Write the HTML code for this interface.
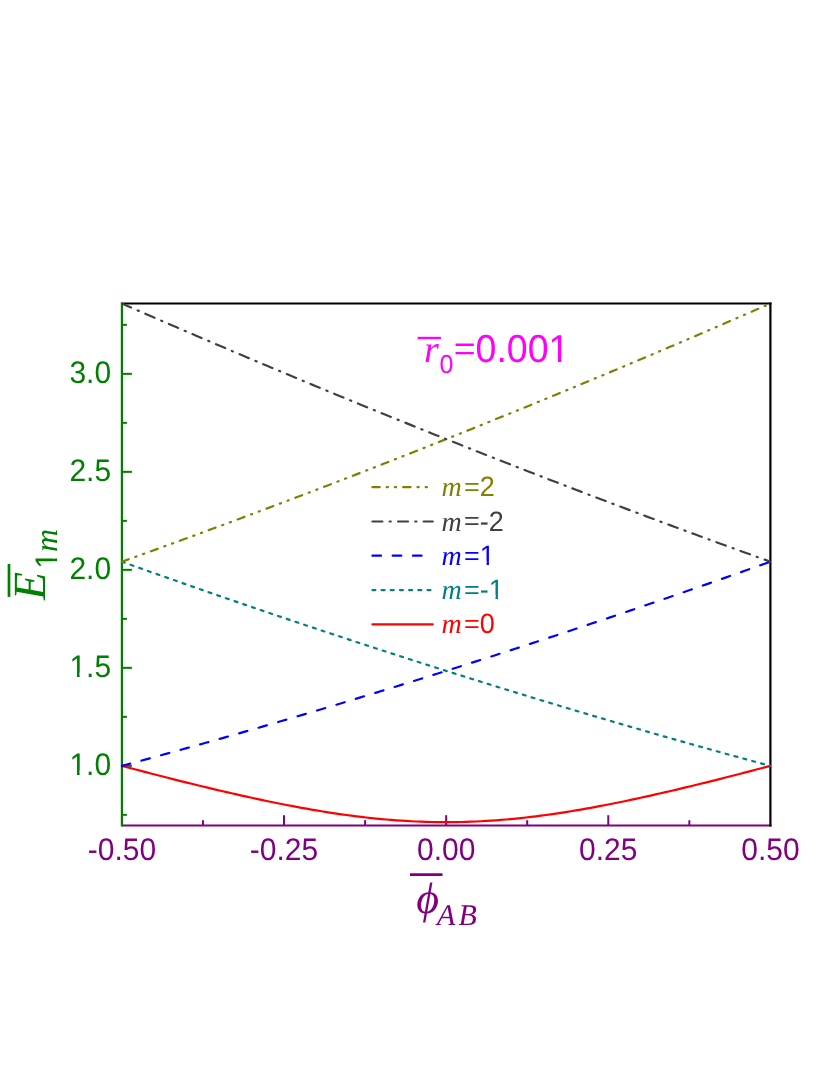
<!DOCTYPE html>
<html lang="en"><head><meta charset="utf-8"><title>chart</title>
<style>html,body{margin:0;padding:0;background:#fff}svg{display:block;will-change:transform}text{text-rendering:geometricPrecision}</style></head>
<body>
<svg width="830" height="1075" viewBox="0 0 830 1075" role="img" aria-label="Energy levels versus Aharonov-Bohm flux">
<rect width="830" height="1075" fill="#fff"/>
<defs><clipPath id="c"><rect x="120.8" y="302.4" width="650.7" height="524.2"/></clipPath></defs>
<line x1="121.9" y1="825.5" x2="771.5" y2="825.5" stroke="#800080" stroke-width="2.2"/>
<line x1="121.9" y1="303.5" x2="771.5" y2="303.5" stroke="#000" stroke-width="2.2"/>
<g stroke="#008000" stroke-width="2.2">
<line x1="121.9" y1="302.4" x2="121.9" y2="826.6"/>
<line x1="121.9" y1="814.85" x2="126.9" y2="814.85" stroke-width="2"/>
<line x1="121.9" y1="765.85" x2="131.9" y2="765.85" stroke-width="2"/>
<line x1="121.9" y1="716.85" x2="126.9" y2="716.85" stroke-width="2"/>
<line x1="121.9" y1="667.85" x2="131.9" y2="667.85" stroke-width="2"/>
<line x1="121.9" y1="618.85" x2="126.9" y2="618.85" stroke-width="2"/>
<line x1="121.9" y1="569.85" x2="131.9" y2="569.85" stroke-width="2"/>
<line x1="121.9" y1="520.85" x2="126.9" y2="520.85" stroke-width="2"/>
<line x1="121.9" y1="471.85" x2="131.9" y2="471.85" stroke-width="2"/>
<line x1="121.9" y1="422.85" x2="126.9" y2="422.85" stroke-width="2"/>
<line x1="121.9" y1="373.85" x2="131.9" y2="373.85" stroke-width="2"/>
<line x1="121.9" y1="324.85" x2="126.9" y2="324.85" stroke-width="2"/>
</g>
<g stroke="#800080" stroke-width="2.2">
<line x1="202.96" y1="825.5" x2="202.96" y2="820.2" stroke-width="2"/>
<line x1="284.02" y1="825.5" x2="284.02" y2="815.2" stroke-width="2"/>
<line x1="365.09" y1="825.5" x2="365.09" y2="820.2" stroke-width="2"/>
<line x1="446.15" y1="825.5" x2="446.15" y2="815.2" stroke-width="2"/>
<line x1="527.21" y1="825.5" x2="527.21" y2="820.2" stroke-width="2"/>
<line x1="608.27" y1="825.5" x2="608.27" y2="815.2" stroke-width="2"/>
<line x1="689.34" y1="825.5" x2="689.34" y2="820.2" stroke-width="2"/>
</g>
<line x1="770.4" y1="302.4" x2="770.4" y2="826.6" stroke="#000" stroke-width="2.2"/>
<g clip-path="url(#c)"><g fill="none" stroke-width="2.2" stroke-linecap="round" stroke-linejoin="round">
<path d="M121.90,765.85 L126.89,767.18 L131.88,768.49 L136.87,769.81 L141.85,771.12 L146.84,772.42 L151.83,773.71 L156.82,775.00 L161.81,776.28 L166.80,777.55 L171.78,778.82 L176.77,780.08 L181.76,781.33 L186.75,782.57 L191.74,783.80 L196.73,785.02 L201.72,786.24 L206.70,787.44 L211.69,788.63 L216.68,789.82 L221.67,790.99 L226.66,792.15 L231.65,793.30 L236.63,794.44 L241.62,795.56 L246.61,796.67 L251.60,797.76 L256.59,798.84 L261.58,799.91 L266.57,800.96 L271.55,801.99 L276.54,803.01 L281.53,804.00 L286.52,804.98 L291.51,805.94 L296.50,806.88 L301.48,807.80 L306.47,808.70 L311.46,809.57 L316.45,810.43 L321.44,811.25 L326.43,812.06 L331.42,812.84 L336.40,813.59 L341.39,814.32 L346.38,815.01 L351.37,815.68 L356.36,816.32 L361.35,816.93 L366.33,817.51 L371.32,818.06 L376.31,818.58 L381.30,819.06 L386.29,819.51 L391.28,819.93 L396.27,820.31 L401.25,820.66 L406.24,820.97 L411.23,821.25 L416.22,821.49 L421.21,821.70 L426.20,821.86 L431.18,821.99 L436.17,822.09 L441.16,822.14 L446.15,822.16 L451.14,822.14 L456.13,822.09 L461.12,821.99 L466.10,821.86 L471.09,821.70 L476.08,821.49 L481.07,821.25 L486.06,820.97 L491.05,820.66 L496.03,820.31 L501.02,819.93 L506.01,819.51 L511.00,819.06 L515.99,818.58 L520.98,818.06 L525.97,817.51 L530.95,816.93 L535.94,816.32 L540.93,815.68 L545.92,815.01 L550.91,814.32 L555.90,813.59 L560.88,812.84 L565.87,812.06 L570.86,811.25 L575.85,810.43 L580.84,809.57 L585.83,808.70 L590.82,807.80 L595.80,806.88 L600.79,805.94 L605.78,804.98 L610.77,804.00 L615.76,803.01 L620.75,801.99 L625.73,800.96 L630.72,799.91 L635.71,798.84 L640.70,797.76 L645.69,796.67 L650.68,795.56 L655.67,794.44 L660.65,793.30 L665.64,792.15 L670.63,790.99 L675.62,789.82 L680.61,788.63 L685.60,787.44 L690.58,786.24 L695.57,785.02 L700.56,783.80 L705.55,782.57 L710.54,781.33 L715.53,780.08 L720.52,778.82 L725.50,777.55 L730.49,776.28 L735.48,775.00 L740.47,773.71 L745.46,772.42 L750.45,771.12 L755.43,769.81 L760.42,768.49 L765.41,767.18 L770.40,765.85" stroke="#ff0000"/>
<path d="M121.90,765.85 L126.89,764.52 L131.88,763.18 L136.87,761.84 L141.85,760.49 L146.84,759.14 L151.83,757.78 L156.82,756.42 L161.81,755.06 L166.80,753.68 L171.78,752.31 L176.77,750.93 L181.76,749.54 L186.75,748.15 L191.74,746.76 L196.73,745.36 L201.72,743.96 L206.70,742.56 L211.69,741.15 L216.68,739.73 L221.67,738.32 L226.66,736.89 L231.65,735.47 L236.63,734.04 L241.62,732.61 L246.61,731.17 L251.60,729.73 L256.59,728.29 L261.58,726.84 L266.57,725.39 L271.55,723.93 L276.54,722.48 L281.53,721.01 L286.52,719.55 L291.51,718.08 L296.50,716.61 L301.48,715.13 L306.47,713.65 L311.46,712.17 L316.45,710.68 L321.44,709.19 L326.43,707.70 L331.42,706.20 L336.40,704.70 L341.39,703.20 L346.38,701.69 L351.37,700.18 L356.36,698.67 L361.35,697.15 L366.33,695.63 L371.32,694.11 L376.31,692.58 L381.30,691.05 L386.29,689.52 L391.28,687.98 L396.27,686.44 L401.25,684.90 L406.24,683.35 L411.23,681.80 L416.22,680.25 L421.21,678.69 L426.20,677.13 L431.18,675.57 L436.17,674.01 L441.16,672.44 L446.15,670.86 L451.14,669.29 L456.13,667.71 L461.12,666.12 L466.10,664.54 L471.09,662.95 L476.08,661.36 L481.07,659.76 L486.06,658.16 L491.05,656.56 L496.03,654.95 L501.02,653.34 L506.01,651.73 L511.00,650.12 L515.99,648.50 L520.98,646.88 L525.97,645.25 L530.95,643.62 L535.94,641.99 L540.93,640.36 L545.92,638.72 L550.91,637.08 L555.90,635.43 L560.88,633.78 L565.87,632.13 L570.86,630.48 L575.85,628.82 L580.84,627.16 L585.83,625.50 L590.82,623.83 L595.80,622.16 L600.79,620.49 L605.78,618.81 L610.77,617.13 L615.76,615.45 L620.75,613.76 L625.73,612.07 L630.72,610.38 L635.71,608.68 L640.70,606.98 L645.69,605.28 L650.68,603.58 L655.67,601.87 L660.65,600.15 L665.64,598.44 L670.63,596.72 L675.62,595.00 L680.61,593.27 L685.60,591.55 L690.58,589.82 L695.57,588.08 L700.56,586.34 L705.55,584.60 L710.54,582.86 L715.53,581.11 L720.52,579.36 L725.50,577.61 L730.49,575.85 L735.48,574.09 L740.47,572.33 L745.46,570.56 L750.45,568.79 L755.43,567.02 L760.42,565.25 L765.41,563.47 L770.40,561.68" stroke="#0000ff" stroke-dasharray="8.6 11.68"/>
<path d="M121.90,561.68 L126.89,563.47 L131.88,565.25 L136.87,567.02 L141.85,568.79 L146.84,570.56 L151.83,572.33 L156.82,574.09 L161.81,575.85 L166.80,577.61 L171.78,579.36 L176.77,581.11 L181.76,582.86 L186.75,584.60 L191.74,586.34 L196.73,588.08 L201.72,589.82 L206.70,591.55 L211.69,593.27 L216.68,595.00 L221.67,596.72 L226.66,598.44 L231.65,600.15 L236.63,601.87 L241.62,603.58 L246.61,605.28 L251.60,606.98 L256.59,608.68 L261.58,610.38 L266.57,612.07 L271.55,613.76 L276.54,615.45 L281.53,617.13 L286.52,618.81 L291.51,620.49 L296.50,622.16 L301.48,623.83 L306.47,625.50 L311.46,627.16 L316.45,628.82 L321.44,630.48 L326.43,632.13 L331.42,633.78 L336.40,635.43 L341.39,637.08 L346.38,638.72 L351.37,640.36 L356.36,641.99 L361.35,643.62 L366.33,645.25 L371.32,646.88 L376.31,648.50 L381.30,650.12 L386.29,651.73 L391.28,653.34 L396.27,654.95 L401.25,656.56 L406.24,658.16 L411.23,659.76 L416.22,661.36 L421.21,662.95 L426.20,664.54 L431.18,666.12 L436.17,667.71 L441.16,669.29 L446.15,670.86 L451.14,672.44 L456.13,674.01 L461.12,675.57 L466.10,677.13 L471.09,678.69 L476.08,680.25 L481.07,681.80 L486.06,683.35 L491.05,684.90 L496.03,686.44 L501.02,687.98 L506.01,689.52 L511.00,691.05 L515.99,692.58 L520.98,694.11 L525.97,695.63 L530.95,697.15 L535.94,698.67 L540.93,700.18 L545.92,701.69 L550.91,703.20 L555.90,704.70 L560.88,706.20 L565.87,707.70 L570.86,709.19 L575.85,710.68 L580.84,712.17 L585.83,713.65 L590.82,715.13 L595.80,716.61 L600.79,718.08 L605.78,719.55 L610.77,721.01 L615.76,722.48 L620.75,723.93 L625.73,725.39 L630.72,726.84 L635.71,728.29 L640.70,729.73 L645.69,731.17 L650.68,732.61 L655.67,734.04 L660.65,735.47 L665.64,736.89 L670.63,738.32 L675.62,739.73 L680.61,741.15 L685.60,742.56 L690.58,743.96 L695.57,745.36 L700.56,746.76 L705.55,748.15 L710.54,749.54 L715.53,750.93 L720.52,752.31 L725.50,753.68 L730.49,755.06 L735.48,756.42 L740.47,757.78 L745.46,759.14 L750.45,760.49 L755.43,761.84 L760.42,763.18 L765.41,764.52 L770.40,765.85" stroke="#008080" stroke-dasharray="3.0 6.183"/>
<path d="M121.90,561.68 L126.89,559.90 L131.88,558.11 L136.87,556.32 L141.85,554.53 L146.84,552.73 L151.83,550.93 L156.82,549.12 L161.81,547.32 L166.80,545.50 L171.78,543.69 L176.77,541.87 L181.76,540.05 L186.75,538.23 L191.74,536.41 L196.73,534.58 L201.72,532.74 L206.70,530.91 L211.69,529.07 L216.68,527.23 L221.67,525.38 L226.66,523.53 L231.65,521.68 L236.63,519.83 L241.62,517.97 L246.61,516.11 L251.60,514.25 L256.59,512.38 L261.58,510.51 L266.57,508.64 L271.55,506.76 L276.54,504.88 L281.53,503.00 L286.52,501.11 L291.51,499.22 L296.50,497.33 L301.48,495.44 L306.47,493.54 L311.46,491.64 L316.45,489.73 L321.44,487.82 L326.43,485.91 L331.42,484.00 L336.40,482.08 L341.39,480.16 L346.38,478.24 L351.37,476.31 L356.36,474.38 L361.35,472.45 L366.33,470.52 L371.32,468.58 L376.31,466.64 L381.30,464.69 L386.29,462.74 L391.28,460.79 L396.27,458.84 L401.25,456.88 L406.24,454.92 L411.23,452.96 L416.22,450.99 L421.21,449.02 L426.20,447.05 L431.18,445.07 L436.17,443.09 L441.16,441.11 L446.15,439.12 L451.14,437.14 L456.13,435.15 L461.12,433.15 L466.10,431.15 L471.09,429.15 L476.08,427.15 L481.07,425.14 L486.06,423.13 L491.05,421.12 L496.03,419.10 L501.02,417.08 L506.01,415.06 L511.00,413.04 L515.99,411.01 L520.98,408.98 L525.97,406.94 L530.95,404.90 L535.94,402.86 L540.93,400.82 L545.92,398.77 L550.91,396.72 L555.90,394.67 L560.88,392.61 L565.87,390.56 L570.86,388.49 L575.85,386.43 L580.84,384.36 L585.83,382.29 L590.82,380.21 L595.80,378.14 L600.79,376.06 L605.78,373.97 L610.77,371.89 L615.76,369.80 L620.75,367.70 L625.73,365.61 L630.72,363.51 L635.71,361.41 L640.70,359.30 L645.69,357.19 L650.68,355.08 L655.67,352.97 L660.65,350.85 L665.64,348.73 L670.63,346.61 L675.62,344.48 L680.61,342.35 L685.60,340.22 L690.58,338.09 L695.57,335.95 L700.56,333.81 L705.55,331.66 L710.54,329.51 L715.53,327.36 L720.52,325.21 L725.50,323.05 L730.49,320.89 L735.48,318.73 L740.47,316.56 L745.46,314.39 L750.45,312.22 L755.43,310.05 L760.42,307.87 L765.41,305.69 L770.40,303.50" stroke="#808000" stroke-dasharray="7.3 7.0 1.2 7.0 1.2 7.1"/>
<path d="M121.90,303.50 L126.89,305.69 L131.88,307.87 L136.87,310.05 L141.85,312.22 L146.84,314.39 L151.83,316.56 L156.82,318.73 L161.81,320.89 L166.80,323.05 L171.78,325.21 L176.77,327.36 L181.76,329.51 L186.75,331.66 L191.74,333.81 L196.73,335.95 L201.72,338.09 L206.70,340.22 L211.69,342.35 L216.68,344.48 L221.67,346.61 L226.66,348.73 L231.65,350.85 L236.63,352.97 L241.62,355.08 L246.61,357.19 L251.60,359.30 L256.59,361.41 L261.58,363.51 L266.57,365.61 L271.55,367.70 L276.54,369.80 L281.53,371.89 L286.52,373.97 L291.51,376.06 L296.50,378.14 L301.48,380.21 L306.47,382.29 L311.46,384.36 L316.45,386.43 L321.44,388.49 L326.43,390.56 L331.42,392.61 L336.40,394.67 L341.39,396.72 L346.38,398.77 L351.37,400.82 L356.36,402.86 L361.35,404.90 L366.33,406.94 L371.32,408.98 L376.31,411.01 L381.30,413.04 L386.29,415.06 L391.28,417.08 L396.27,419.10 L401.25,421.12 L406.24,423.13 L411.23,425.14 L416.22,427.15 L421.21,429.15 L426.20,431.15 L431.18,433.15 L436.17,435.15 L441.16,437.14 L446.15,439.12 L451.14,441.11 L456.13,443.09 L461.12,445.07 L466.10,447.05 L471.09,449.02 L476.08,450.99 L481.07,452.96 L486.06,454.92 L491.05,456.88 L496.03,458.84 L501.02,460.79 L506.01,462.74 L511.00,464.69 L515.99,466.64 L520.98,468.58 L525.97,470.52 L530.95,472.45 L535.94,474.38 L540.93,476.31 L545.92,478.24 L550.91,480.16 L555.90,482.08 L560.88,484.00 L565.87,485.91 L570.86,487.82 L575.85,489.73 L580.84,491.64 L585.83,493.54 L590.82,495.44 L595.80,497.33 L600.79,499.22 L605.78,501.11 L610.77,503.00 L615.76,504.88 L620.75,506.76 L625.73,508.64 L630.72,510.51 L635.71,512.38 L640.70,514.25 L645.69,516.11 L650.68,517.97 L655.67,519.83 L660.65,521.68 L665.64,523.53 L670.63,525.38 L675.62,527.23 L680.61,529.07 L685.60,530.91 L690.58,532.74 L695.57,534.58 L700.56,536.41 L705.55,538.23 L710.54,540.05 L715.53,541.87 L720.52,543.69 L725.50,545.50 L730.49,547.32 L735.48,549.12 L740.47,550.93 L745.46,552.73 L750.45,554.53 L755.43,556.32 L760.42,558.11 L765.41,559.90 L770.40,561.68" stroke="#404040" stroke-dasharray="10.0 7.2 1.2 7.23"/>
</g>
</g>
<clipPath id="k1"><path clip-rule="evenodd" d="M-500,-500H500V500H-500ZM-40.24,-3.84 H-34.16 V3 H-40.24 ZM-31.51,-3.84 H-25.59 V3 H-31.51 Z"/></clipPath><text transform="translate(111.10,774.55) scale(1,1.040)" font-family="Liberation Sans, sans-serif" font-size="30" fill="#008000" text-anchor="end" clip-path="url(#k1)">1.0</text>
<clipPath id="k2"><path clip-rule="evenodd" d="M-500,-500H500V500H-500ZM-40.24,-3.84 H-34.16 V3 H-40.24 ZM-31.51,-3.84 H-25.59 V3 H-31.51 Z"/></clipPath><text transform="translate(111.10,676.55) scale(1,1.040)" font-family="Liberation Sans, sans-serif" font-size="30" fill="#008000" text-anchor="end" clip-path="url(#k2)">1.5</text>
<text transform="translate(111.10,578.55) scale(1,1.040)" font-family="Liberation Sans, sans-serif" font-size="30" fill="#008000" text-anchor="end">2.0</text>
<text transform="translate(111.10,480.55) scale(1,1.040)" font-family="Liberation Sans, sans-serif" font-size="30" fill="#008000" text-anchor="end">2.5</text>
<text transform="translate(111.10,382.55) scale(1,1.040)" font-family="Liberation Sans, sans-serif" font-size="30" fill="#008000" text-anchor="end">3.0</text>
<text transform="translate(121.90,860.30) scale(1,1.040)" font-family="Liberation Sans, sans-serif" font-size="30" fill="#800080" text-anchor="middle">-0.50</text>
<text transform="translate(284.02,860.30) scale(1,1.040)" font-family="Liberation Sans, sans-serif" font-size="30" fill="#800080" text-anchor="middle">-0.25</text>
<text transform="translate(446.15,860.30) scale(1,1.040)" font-family="Liberation Sans, sans-serif" font-size="30" fill="#800080" text-anchor="middle">0.00</text>
<text transform="translate(608.27,860.30) scale(1,1.040)" font-family="Liberation Sans, sans-serif" font-size="30" fill="#800080" text-anchor="middle">0.25</text>
<text transform="translate(770.40,860.30) scale(1,1.040)" font-family="Liberation Sans, sans-serif" font-size="30" fill="#800080" text-anchor="middle">0.50</text>
<g fill="none" stroke-width="2.2" stroke-linecap="round">
<line x1="372.4" y1="487.2" x2="432.8" y2="487.2" stroke="#808000" stroke-dasharray="7.3 7.0 1.2 7.0 1.2 7.1"/>
<line x1="372.4" y1="521.5" x2="432.8" y2="521.5" stroke="#404040" stroke-dasharray="10.0 7.2 1.2 7.23"/>
<line x1="372.4" y1="555.7" x2="432.8" y2="555.7" stroke="#0000ff" stroke-dasharray="8.6 11.68"/>
<line x1="372.4" y1="590.1" x2="432.8" y2="590.1" stroke="#008080" stroke-dasharray="3.0 6.183"/>
<line x1="372.4" y1="624.3" x2="432.8" y2="624.3" stroke="#ff0000"/>
</g>
<text x="441.5" y="496.25" font-family="Liberation Serif, serif" font-style="italic" font-size="28" fill="#808000" text-anchor="start">m</text>
<text transform="translate(464.00,495.01) scale(1,0.900)" font-family="Liberation Sans, sans-serif" font-size="27" fill="#808000" text-anchor="start">=</text><text transform="translate(479.77,496.25) scale(1,1.040)" font-family="Liberation Sans, sans-serif" font-size="27" fill="#808000" text-anchor="start">2</text>
<text x="441.5" y="530.55" font-family="Liberation Serif, serif" font-style="italic" font-size="28" fill="#404040" text-anchor="start">m</text>
<text transform="translate(464.00,529.31) scale(1,0.900)" font-family="Liberation Sans, sans-serif" font-size="27" fill="#404040" text-anchor="start">=</text><text transform="translate(479.77,530.55) scale(1,1.040)" font-family="Liberation Sans, sans-serif" font-size="27" fill="#404040" text-anchor="start">-2</text>
<text x="441.5" y="564.75" font-family="Liberation Serif, serif" font-style="italic" font-size="28" fill="#0000ff" text-anchor="start">m</text>
<text transform="translate(464.00,563.51) scale(1,0.900)" font-family="Liberation Sans, sans-serif" font-size="27" fill="#0000ff" text-anchor="start">=</text><clipPath id="k3"><path clip-rule="evenodd" d="M-500,-500H500V500H-500ZM1.32,-3.62 H6.79 V3 H1.32 ZM9.18,-3.62 H14.50 V3 H9.18 Z"/></clipPath><text transform="translate(479.77,564.75) scale(1,1.040)" font-family="Liberation Sans, sans-serif" font-size="27" fill="#0000ff" text-anchor="start" clip-path="url(#k3)">1</text>
<text x="441.5" y="599.15" font-family="Liberation Serif, serif" font-style="italic" font-size="28" fill="#008080" text-anchor="start">m</text>
<text transform="translate(464.00,597.91) scale(1,0.900)" font-family="Liberation Sans, sans-serif" font-size="27" fill="#008080" text-anchor="start">=</text><clipPath id="k4"><path clip-rule="evenodd" d="M-500,-500H500V500H-500ZM10.31,-3.62 H15.78 V3 H10.31 ZM18.17,-3.62 H23.49 V3 H18.17 Z"/></clipPath><text transform="translate(479.77,599.15) scale(1,1.040)" font-family="Liberation Sans, sans-serif" font-size="27" fill="#008080" text-anchor="start" clip-path="url(#k4)">-1</text>
<text x="441.5" y="633.35" font-family="Liberation Serif, serif" font-style="italic" font-size="28" fill="#ff0000" text-anchor="start">m</text>
<text transform="translate(464.00,632.11) scale(1,0.900)" font-family="Liberation Sans, sans-serif" font-size="27" fill="#ff0000" text-anchor="start">=</text><text transform="translate(479.77,633.35) scale(1,1.040)" font-family="Liberation Sans, sans-serif" font-size="27" fill="#ff0000" text-anchor="start">0</text>
<text x="424" y="362.10" font-family="Liberation Serif, serif" font-style="italic" font-size="38" fill="#ff00ff" text-anchor="start">r</text>
<text transform="translate(439.60,372.60) scale(1,1.040)" font-family="Liberation Sans, sans-serif" font-size="25" fill="#ff00ff" text-anchor="start">0</text>
<text transform="translate(453.70,360.38) scale(1,0.900)" font-family="Liberation Sans, sans-serif" font-size="37.5" fill="#ff00ff" text-anchor="start">=</text><clipPath id="k5"><path clip-rule="evenodd" d="M-500,-500H500V500H-500ZM74.82,-4.40 H82.42 V3 H74.82 ZM85.73,-4.40 H93.13 V3 H85.73 Z"/></clipPath><text transform="translate(475.60,362.10) scale(1,1.040)" font-family="Liberation Sans, sans-serif" font-size="37.5" fill="#ff00ff" text-anchor="start" clip-path="url(#k5)">0.001</text>
<line x1="417.70" y1="337.95" x2="440.90" y2="337.95" stroke="#ff00ff" stroke-width="2.3"/>
<text x="427.6" y="913" font-family="Liberation Serif, serif" font-style="italic" font-size="44" fill="#800080" text-anchor="middle">ϕ</text>
<text x="437" y="924.50" font-family="Liberation Serif, serif" font-style="italic" font-size="30" fill="#800080" text-anchor="start">A</text>
<text x="458.5" y="924.50" font-family="Liberation Serif, serif" font-style="italic" font-size="30" fill="#800080" text-anchor="start">B</text>
<line x1="410.00" y1="874.67" x2="442.50" y2="874.67" stroke="#800080" stroke-width="2.8"/>
<g transform="translate(45.2,600) rotate(-90)">
<text x="0" y="-0.40" font-family="Liberation Serif, serif" font-style="italic" font-size="46" fill="#008000" text-anchor="start">E</text>
<clipPath id="k6"><path clip-rule="evenodd" d="M-500,-500H500V500H-500ZM1.46,-3.84 H7.54 V3 H1.46 ZM10.20,-3.84 H16.11 V3 H10.20 Z"/></clipPath><text transform="translate(31.20,11.45) scale(1,1.040)" font-family="Liberation Sans, sans-serif" font-size="30" fill="#008000" text-anchor="start" clip-path="url(#k6)">1</text>
<text x="48" y="11.30" font-family="Liberation Serif, serif" font-style="italic" font-size="32" fill="#008000" text-anchor="start">m</text>
<line x1="3.10" y1="-36.20" x2="36.10" y2="-36.20" stroke="#008000" stroke-width="2.7"/>
</g>
</svg>
</body></html>
